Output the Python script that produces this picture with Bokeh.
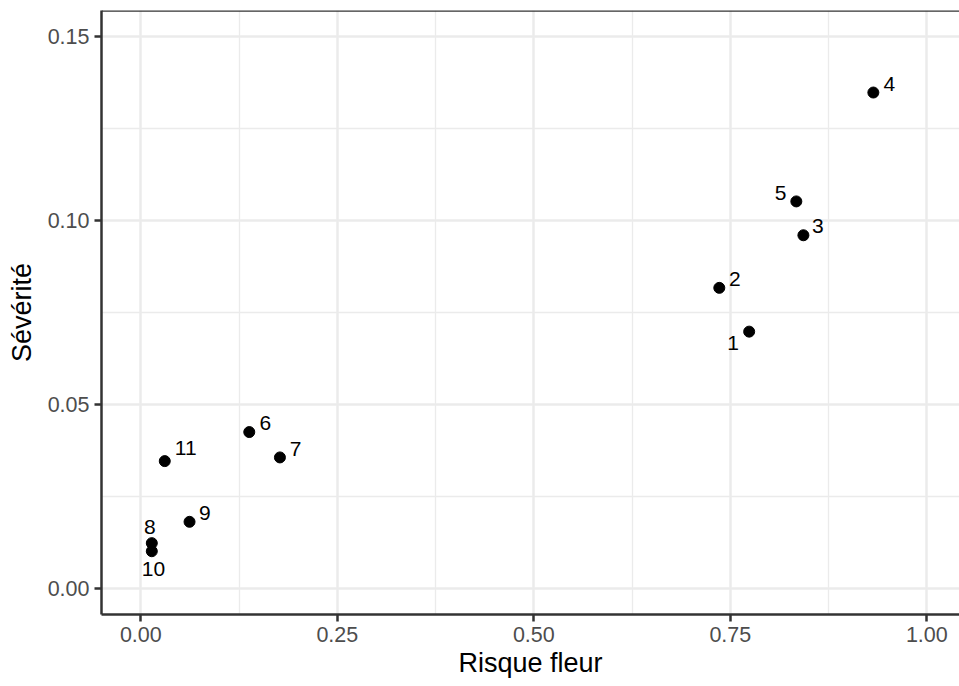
from bokeh.plotting import figure
from bokeh.models import ColumnDataSource, FixedTicker, Range1d, Span
from bokeh.core.properties import value
from bokeh.embed import file_html
from bokeh.resources import INLINE

# ---- data ----
ids = ["1", "2", "3", "4", "5", "6", "7", "8", "9", "10", "11"]
risque_fleur = [0.774, 0.736, 0.843, 0.932, 0.834, 0.138, 0.177, 0.014, 0.062, 0.014, 0.0305]
severite = [0.0698, 0.0817, 0.0960, 0.1348, 0.1052, 0.0425, 0.0356, 0.0123, 0.0181, 0.0101, 0.0346]

x_ticks = [0.0, 0.25, 0.5, 0.75, 1.0]
x_tick_labels = ["0.00", "0.25", "0.50", "0.75", "1.00"]
x_minor = [0.125, 0.375, 0.625, 0.875]
y_ticks = [0.0, 0.05, 0.10, 0.15]
y_tick_labels = ["0.00", "0.05", "0.10", "0.15"]
y_minor = [0.025, 0.075, 0.125]

# label nudges (screen px) mimicking the repelled labels
label_dx = [-16, 15.6, 14.4, 16, -15.7, 16, 15.7, -2, 15.3, 1.7, 21]
label_dy = [11.7, -9, -9.7, -8.7, -8.7, -9.3, -8.7, -16, -8.7, 18, -13]

FONT = "Liberation Sans"
BORDER = "#333333"
GRID = "#EBEBEB"

src = ColumnDataSource(dict(x=risque_fleur, y=severite, lab=ids, dx=label_dx, dy=label_dy))

x_start, x_end = -0.05, 1.0416
y_start, y_end = -0.0071, 0.1571
p = figure(
    width=959, height=686,
    x_range=Range1d(x_start, x_end), y_range=Range1d(y_start, y_end),
    output_backend="svg", toolbar_location=None,
    min_border_left=101, min_border_right=0, min_border_top=10, min_border_bottom=72,
    background_fill_color="white", border_fill_color="white",
    outline_line_color=None,
)
p.outline_line_alpha = 0

p.scatter("x", "y", source=src, size=11, color="black")
p.text("x", "y", text="lab", source=src, x_offset="dx", y_offset="dy",
       text_font=value(FONT), text_font_size="21px", text_color="black",
       text_align="center", text_baseline="middle")

p.xaxis.ticker = FixedTicker(ticks=x_ticks, minor_ticks=x_minor)
p.yaxis.ticker = FixedTicker(ticks=y_ticks, minor_ticks=y_minor)
p.xaxis.major_label_overrides = {t: l for t, l in zip(x_ticks, x_tick_labels)}
p.yaxis.major_label_overrides = {t: l for t, l in zip(y_ticks, y_tick_labels)}

p.xaxis.axis_label = "Risque fleur"
p.yaxis.axis_label = "Sévérité"

for ax in (p.xaxis, p.yaxis):
    ax.axis_line_color = BORDER
    ax.axis_line_width = 2.5
    ax.major_tick_line_color = BORDER
    ax.major_tick_line_width = 2.5
    ax.major_tick_out = 7
    ax.major_tick_in = 0
    ax.minor_tick_out = 0
    ax.minor_tick_in = 0
    ax.major_label_text_font = FONT
    ax.major_label_text_font_size = "21.5px"
    ax.major_label_text_color = "#4D4D4D"
    ax.major_label_standoff = 5
    ax.axis_label_text_font = FONT
    ax.axis_label_text_font_size = "27px"
    ax.axis_label_text_font_style = "normal"
    ax.axis_label_text_color = "black"

p.xaxis.axis_label_standoff = 3
p.yaxis.axis_label_standoff = 8

for g in (p.xgrid, p.ygrid):
    g.grid_line_color = GRID
    g.grid_line_width = 2.5
    g.minor_grid_line_color = GRID
    g.minor_grid_line_width = 1.3

top_border = Span(location=y_end, dimension="width", line_color=BORDER, line_width=2.5)
p.add_layout(top_border)

open("out.html", "w").write(file_html(p, INLINE))
